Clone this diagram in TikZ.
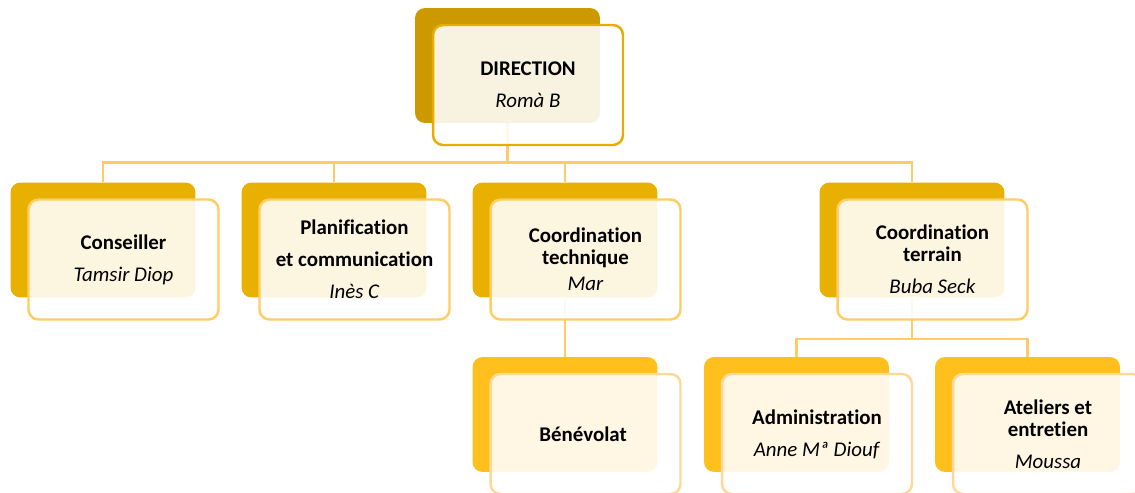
\documentclass[tikz,border=0pt]{standalone}
\usepackage{fontspec}
\setmainfont[Ligatures=NoCommon]{Carlito}
\usepackage{xcolor}
\definecolor{topgold}{HTML}{CC9A00}
\definecolor{topedge}{HTML}{E6AC00}
\definecolor{midgold}{HTML}{E8B000}
\definecolor{midedge}{HTML}{FFCC66}
\definecolor{lowgold}{HTML}{FFC01E}
\definecolor{lowedge}{HTML}{FFD898}
\definecolor{linkgold}{HTML}{FFCB68}
\usetikzlibrary{positioning,backgrounds}

\begin{document}
\begin{tikzpicture}[
        x=0.02cm, y=-0.02cm,
        backbox/.style={rectangle, rounded corners=0.2cm, minimum width=3.7cm, minimum height=2.3cm, inner sep=0pt, fill=#1},
        frontbox/.style={rectangle, rounded corners=0.2cm, minimum width=3.8cm, minimum height=2.4cm, inner sep=0pt, draw=#1, line width=1.4pt, fill=white, fill opacity=0.88, text opacity=1, align=center, font=\fontsize{11.9}{12.6}\selectfont},
        link/.style={draw=linkgold, line width=1.4pt}
    ]
        \useasboundingbox (0,0) rectangle (1135,493);

        % Direction
        \node[backbox=topgold] (dirb) at (507.5,65.5) {};
        \node[frontbox=topedge] (dir) at ([xshift=0.41cm, yshift=-0.39cm]dirb.center) {
            \textbf{DIRECTION}\\[5.5pt]
            \textit{Romà B}
        };

        % Conseiller
        \node[backbox=midgold] (consb) at (103,240) {};
        \node[frontbox=midedge] (cons) at ([xshift=0.41cm, yshift=-0.39cm]consb.center) {
            \textbf{Conseiller}\\[5.5pt]
            \textit{Tamsir Diop}
        };

        % Planification
        \node[backbox=midgold] (planb) at (334,240) {};
        \node[frontbox=midedge] (plan) at ([xshift=0.41cm, yshift=-0.39cm]planb.center) {
            \textbf{Planification}\\[5.5pt]
            \textbf{et communication}\\[5.5pt]
            \textit{Inès C}
        };

        % Coordination technique
        \node[backbox=midgold] (techb) at (565,240) {};
        \node[frontbox=midedge] (tech) at ([xshift=0.41cm, yshift=-0.39cm]techb.center) {
            \textbf{Coordination}\\
            \textbf{technique}\\[2.1pt]
            \textit{Mar}
        };

        % Coordination terrain
        \node[backbox=midgold] (terrb) at (912,240) {};
        \node[frontbox=midedge] (terr) at ([xshift=0.41cm, yshift=-0.39cm]terrb.center) {
            \textbf{Coordination}\\
            \textbf{terrain}\\[5.5pt]
            \textit{Buba Seck}
        };

        % Benevolat
        \node[backbox=lowgold] (beneb) at (565,414.5) {};
        \node[frontbox=lowedge] (bene) at ([xshift=0.41cm, yshift=-0.39cm]beneb.center) {
            \textbf{Bénévolat}
        };

        % Administration
        \node[backbox=lowgold] (adminb) at (796.5,414.5) {};
        \node[frontbox=lowedge] (admin) at ([xshift=0.41cm, yshift=-0.39cm]adminb.center) {
            \textbf{Administration}\\[5.5pt]
            \textit{Anne Mª Diouf}
        };

        % Ateliers
        \node[backbox=lowgold] (atelb) at (1027.5,414.5) {};
        \node[frontbox=lowedge] (atel) at ([xshift=0.41cm, yshift=-0.39cm]atelb.center) {
            \textbf{Ateliers et}\\
            \textbf{entretien}\\[5.5pt]
            \textit{Moussa}
        };

        % Links
        \begin{scope}[on background layer]
            \draw[link] (dirb.south) -- ++(0,39) coordinate (hub);
            \foreach \n in {consb,planb,techb,terrb}
                \draw[link] (hub) -| (\n.north);
            \draw[link] (techb.south) -- (beneb.north);
            \draw[link] (terrb.south) -- ++(0,41) coordinate (subhub);
            \foreach \n in {adminb,atelb}
                \draw[link] (subhub) -| (\n.north);
        \end{scope}

    \end{tikzpicture}
\end{document}
